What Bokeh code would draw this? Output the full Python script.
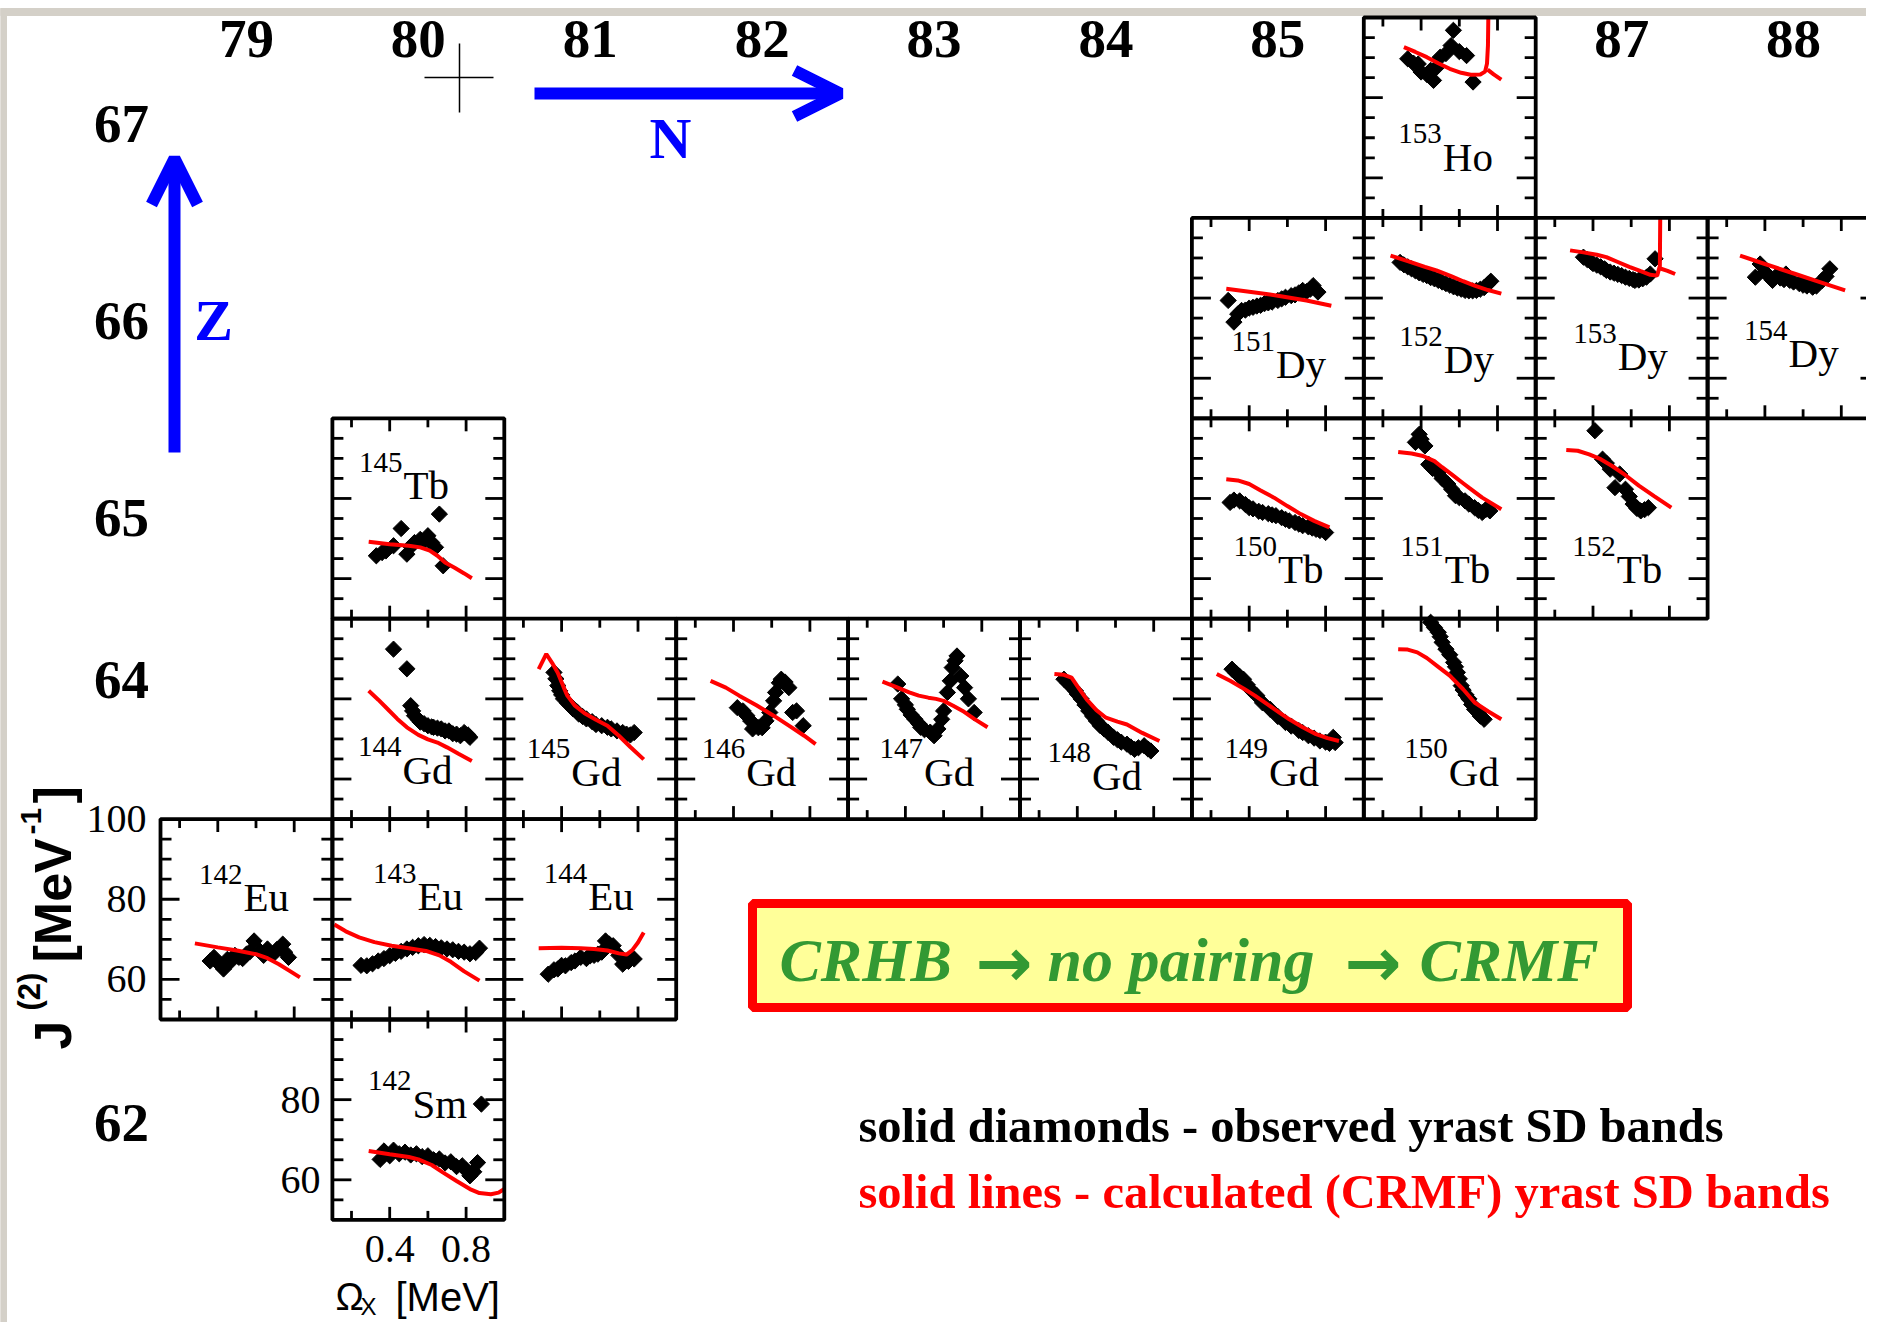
import numpy as np
from bokeh.plotting import figure
from bokeh.models import Range1d, Arrow, OpenHead
from bokeh.core.properties import value
from bokeh.embed import file_html
from bokeh.resources import INLINE

# ---------------------------------------------------------------- data
# observed J(2) (diamonds) and calculated CRMF J(2) (lines); x = Omega_x [MeV]
eu142_ox = [0.36, 0.38, 0.40, 0.43, 0.45, 0.47, 0.49, 0.51, 0.53, 0.55, 0.57, 0.59, 0.62, 0.64, 0.66, 0.69, 0.71, 0.74, 0.75, 0.77]
eu142_oy = [64.6, 65.5, 64.2, 62.6, 65.0, 64.6, 66.0, 65.5, 65.2, 66.3, 67.0, 69.6, 67.1, 66.0, 67.6, 66.3, 67.5, 68.8, 66.8, 65.5]
eu142_cx = [0.28, 0.40, 0.50, 0.60, 0.66, 0.72, 0.78, 0.83]
eu142_cy = [69.0, 68.0, 67.2, 66.3, 65.3, 63.8, 62.0, 60.5]

eu143_ox = [0.25, 0.28, 0.31, 0.34, 0.37, 0.40, 0.43, 0.46, 0.49, 0.52, 0.55, 0.58, 0.61, 0.64, 0.67, 0.70, 0.73, 0.76, 0.79, 0.82, 0.85, 0.87]
eu143_oy = [63.5, 63.4, 63.9, 64.6, 65.2, 65.9, 66.5, 67.0, 67.6, 68.0, 68.4, 68.7, 68.5, 68.2, 67.9, 67.6, 67.4, 67.0, 66.8, 66.4, 66.7, 67.8]
eu143_cx = [0.11, 0.17, 0.24, 0.32, 0.41, 0.50, 0.59, 0.66, 0.72, 0.79, 0.87]
eu143_cy = [73.7, 72.0, 70.5, 69.3, 68.4, 67.8, 67.1, 66.0, 64.4, 62.0, 59.7]

eu144_ox = [0.33, 0.36, 0.38, 0.40, 0.42, 0.45, 0.47, 0.50, 0.53, 0.55, 0.57, 0.59, 0.61, 0.63, 0.65, 0.67, 0.70, 0.72, 0.75, 0.78]
eu144_oy = [61.3, 62.4, 62.6, 63.5, 63.4, 64.2, 64.6, 65.5, 65.2, 65.9, 66.0, 66.3, 66.8, 69.6, 68.8, 68.4, 66.0, 63.8, 64.5, 65.1]
eu144_cx = [0.28, 0.40, 0.50, 0.57, 0.64, 0.70, 0.74, 0.77, 0.80, 0.83]
eu144_cy = [67.8, 67.9, 67.8, 67.6, 67.2, 66.5, 66.2, 67.3, 69.2, 71.7]

sm142_ox = [0.35, 0.37, 0.40, 0.42, 0.45, 0.48, 0.51, 0.54, 0.57, 0.60, 0.63, 0.66, 0.69, 0.72, 0.75, 0.78, 0.80, 0.82, 0.83, 0.84, 0.86, 0.88]
sm142_oy = [65.1, 67.2, 66.0, 67.4, 66.5, 66.9, 66.2, 66.5, 65.8, 66.0, 65.0, 65.2, 64.2, 64.5, 63.3, 63.5, 62.4, 61.0, 61.8, 62.0, 64.3, 78.9]
sm142_cx = [0.29, 0.40, 0.50, 0.55, 0.62, 0.68, 0.75, 0.82, 0.87, 0.93, 0.97, 1.0]
sm142_cy = [67.2, 66.4, 65.7, 65.1, 63.7, 61.8, 59.7, 57.7, 56.7, 56.4, 56.8, 57.7]

tb145_ox = [0.33, 0.36, 0.38, 0.42, 0.46, 0.49, 0.51, 0.53, 0.56, 0.58, 0.60, 0.62, 0.64, 0.66, 0.68]
tb145_oy = [65.7, 66.5, 66.9, 68.2, 72.5, 66.1, 68.0, 69.0, 69.8, 69.3, 70.7, 69.0, 67.8, 76.1, 63.2]
tb145_cx = [0.29, 0.40, 0.50, 0.56, 0.61, 0.65, 0.69, 0.74, 0.79, 0.83]
tb145_cy = [69.2, 68.6, 68.2, 67.8, 67.0, 65.7, 64.0, 62.7, 61.3, 60.1]

gd144_ox = [0.42, 0.49, 0.51, 0.52, 0.53, 0.55, 0.56, 0.58, 0.60, 0.62, 0.63, 0.65, 0.67, 0.69, 0.71, 0.73, 0.75, 0.77, 0.79, 0.81, 0.82]
gd144_oy = [92.4, 87.5, 78.3, 77.0, 75.8, 74.8, 74.2, 73.8, 73.3, 73.0, 72.9, 72.7, 72.5, 72.0, 72.0, 71.3, 71.2, 70.8, 71.6, 71.0, 70.4]
gd144_cx = [0.29, 0.34, 0.39, 0.44, 0.49, 0.55, 0.60, 0.65, 0.70, 0.76, 0.83]
gd144_cy = [82.0, 79.8, 77.4, 75.0, 72.9, 71.0, 69.9, 69.1, 67.9, 66.3, 64.5]

gd145_ox = [0.36, 0.37, 0.38, 0.39, 0.40, 0.41, 0.43, 0.445, 0.46, 0.48, 0.49, 0.51, 0.53, 0.56, 0.58, 0.61, 0.64, 0.66, 0.69, 0.72, 0.74, 0.76, 0.78]
gd145_oy = [86.6, 85.0, 83.3, 82.0, 81.0, 80.0, 79.0, 78.3, 77.5, 76.8, 76.2, 75.6, 75.0, 74.3, 73.6, 73.3, 72.9, 72.5, 72.0, 71.6, 71.2, 71.0, 71.6]
gd145_cx = [0.28, 0.32, 0.35, 0.38, 0.41, 0.43, 0.47, 0.52, 0.58, 0.64, 0.70, 0.76, 0.83]
gd145_cy = [87.4, 91.2, 89.0, 86.5, 83.0, 80.8, 78.3, 76.4, 74.8, 73.3, 70.8, 68.0, 64.9]

gd146_ox = [0.42, 0.45, 0.47, 0.49, 0.50, 0.53, 0.55, 0.57, 0.59, 0.61, 0.62, 0.64, 0.65, 0.67, 0.69, 0.71, 0.73, 0.765]
gd146_oy = [77.8, 77.0, 75.8, 74.5, 72.5, 72.8, 72.8, 74.5, 76.6, 79.5, 81.6, 84.0, 84.9, 84.2, 82.8, 76.6, 77.0, 73.3]
gd146_cx = [0.28, 0.36, 0.43, 0.52, 0.61, 0.70, 0.77, 0.83]
gd146_cy = [84.5, 82.8, 80.8, 78.4, 75.8, 73.0, 70.8, 68.7]

gd147_ox = [0.36, 0.38, 0.40, 0.41, 0.43, 0.45, 0.47, 0.48, 0.50, 0.53, 0.55, 0.57, 0.59, 0.60, 0.62, 0.635, 0.645, 0.66, 0.67, 0.69, 0.71, 0.73, 0.76]
gd147_oy = [83.7, 80.0, 78.5, 77.4, 76.0, 74.9, 73.8, 72.9, 72.3, 71.7, 70.8, 72.5, 74.9, 77.0, 81.6, 84.5, 87.8, 89.5, 90.7, 85.7, 82.8, 80.0, 76.6]
gd147_cx = [0.28, 0.35, 0.42, 0.47, 0.52, 0.56, 0.60, 0.65, 0.70, 0.76, 0.83]
gd147_cy = [84.3, 83.0, 81.6, 80.8, 80.3, 80.0, 79.5, 78.3, 77.0, 75.0, 72.9]

gd148_ox = [0.33, 0.35, 0.37, 0.39, 0.40, 0.42, 0.44, 0.46, 0.48, 0.50, 0.52, 0.54, 0.56, 0.59, 0.61, 0.63, 0.66, 0.68, 0.70, 0.72, 0.75, 0.77, 0.785]
gd148_oy = [84.9, 84.0, 83.0, 82.0, 81.2, 80.0, 78.5, 77.0, 75.7, 74.5, 73.3, 72.5, 71.7, 70.4, 69.8, 69.2, 68.7, 68.0, 67.4, 67.8, 68.3, 67.5, 67.0]
gd148_cx = [0.28, 0.33, 0.37, 0.41, 0.45, 0.50, 0.55, 0.61, 0.66, 0.74, 0.83]
gd148_cy = [86.2, 86.0, 85.3, 82.5, 79.8, 77.2, 75.3, 74.3, 73.6, 71.5, 69.5]

gd149_ox = [0.31, 0.33, 0.35, 0.37, 0.39, 0.41, 0.44, 0.47, 0.51, 0.55, 0.59, 0.62, 0.66, 0.68, 0.71, 0.74, 0.77, 0.80, 0.82, 0.84, 0.85]
gd149_oy = [87.4, 86.5, 85.6, 84.9, 83.5, 82.2, 80.8, 79.0, 77.4, 75.6, 74.1, 73.2, 72.1, 71.6, 70.8, 70.2, 69.5, 69.2, 68.9, 70.4, 69.1]
gd149_cx = [0.23, 0.30, 0.37, 0.43, 0.50, 0.56, 0.61, 0.68, 0.75, 0.81, 0.87]
gd149_cy = [86.2, 84.5, 82.6, 80.8, 78.5, 76.5, 74.9, 72.9, 71.2, 70.2, 69.5]

gd150_ox = [0.45, 0.47, 0.49, 0.50, 0.51, 0.53, 0.55, 0.57, 0.58, 0.59, 0.60, 0.61, 0.62, 0.635, 0.65, 0.665, 0.68, 0.70, 0.71, 0.73]
gd150_oy = [99.1, 97.8, 96.6, 95.5, 94.1, 92.4, 91.0, 89.1, 88.0, 86.6, 85.0, 83.3, 82.2, 81.0, 80.0, 78.6, 77.4, 76.5, 75.7, 74.9]
gd150_cx = [0.28, 0.33, 0.38, 0.43, 0.49, 0.55, 0.62, 0.68, 0.75, 0.82]
gd150_cy = [92.4, 92.3, 91.6, 90.2, 88.0, 85.8, 82.4, 79.1, 76.9, 74.9]

tb150_ox = [0.30, 0.32, 0.35, 0.38, 0.40, 0.42, 0.45, 0.47, 0.50, 0.52, 0.54, 0.57, 0.59, 0.61, 0.64, 0.66, 0.68, 0.71, 0.73, 0.75, 0.77, 0.80]
tb150_oy = [79.0, 79.6, 79.4, 78.5, 77.7, 77.4, 76.8, 76.5, 76.2, 75.9, 75.7, 75.2, 74.8, 74.4, 74.0, 73.6, 73.2, 72.9, 72.6, 72.3, 72.0, 71.5]
tb150_cx = [0.28, 0.34, 0.40, 0.46, 0.53, 0.60, 0.67, 0.74, 0.82]
tb150_cy = [84.8, 84.5, 83.6, 82.0, 80.2, 78.1, 76.1, 74.4, 72.8]

tb151_ox = [0.37, 0.39, 0.40, 0.42, 0.44, 0.46, 0.49, 0.51, 0.54, 0.56, 0.58, 0.60, 0.63, 0.65, 0.68, 0.70, 0.72, 0.74, 0.76]
tb151_oy = [94.0, 96.0, 94.8, 93.1, 88.5, 87.5, 86.5, 85.0, 83.6, 82.3, 80.7, 80.2, 79.4, 78.6, 77.7, 77.0, 76.5, 77.3, 76.9]
tb151_cx = [0.28, 0.35, 0.41, 0.47, 0.51, 0.56, 0.62, 0.65, 0.72, 0.82]
tb151_cy = [91.6, 91.2, 90.6, 89.3, 87.8, 86.0, 83.8, 82.7, 80.2, 77.3]

tb152_ox = [0.41, 0.45, 0.47, 0.49, 0.515, 0.54, 0.57, 0.59, 0.61, 0.63, 0.65, 0.67, 0.69]
tb152_oy = [96.9, 89.8, 88.8, 87.3, 82.7, 86.1, 82.3, 80.5, 78.6, 77.5, 76.9, 77.2, 77.7]
tb152_cx = [0.26, 0.32, 0.38, 0.44, 0.50, 0.57, 0.64, 0.72, 0.81]
tb152_cy = [92.1, 91.9, 91.0, 89.8, 88.1, 85.8, 83.2, 80.6, 77.7]

ho153_ox = [0.33, 0.36, 0.385, 0.40, 0.43, 0.45, 0.465, 0.48, 0.50, 0.53, 0.557, 0.569, 0.60, 0.638, 0.672]
ho153_oy = [89.7, 88.6, 88.4, 86.4, 85.8, 86.8, 84.3, 87.5, 90.1, 91.0, 93.0, 96.8, 91.5, 90.5, 83.9]
ho153_cx = [0.31, 0.37, 0.43, 0.49, 0.55, 0.61, 0.66, 0.71, 0.735, 0.745, 0.75, 0.752]
ho153_cy = [92.6, 91.4, 90.1, 88.6, 87.2, 86.2, 85.7, 85.8, 86.5, 88.5, 93.0, 100.0]
ho153_c2x = [0.748, 0.78, 0.82]
ho153_c2y = [87.0, 85.8, 84.5]

dy151_ox = [0.29, 0.32, 0.34, 0.36, 0.38, 0.40, 0.42, 0.44, 0.46, 0.48, 0.50, 0.52, 0.55, 0.57, 0.59, 0.62, 0.64, 0.66, 0.68, 0.70, 0.72, 0.735, 0.76]
dy151_oy = [79.4, 74.0, 76.0, 76.9, 77.0, 77.5, 77.7, 78.0, 78.2, 78.6, 78.8, 79.0, 79.4, 79.8, 80.2, 80.6, 80.8, 81.3, 81.9, 81.6, 82.2, 83.1, 81.5]
dy151_cx = [0.28, 0.40, 0.55, 0.70, 0.83]
dy151_cy = [82.3, 81.6, 80.6, 79.4, 78.1]

dy152_ox = [0.29, 0.31, 0.33, 0.35, 0.37, 0.39, 0.41, 0.43, 0.45, 0.47, 0.49, 0.51, 0.53, 0.55, 0.57, 0.59, 0.61, 0.63, 0.65, 0.67, 0.69, 0.71, 0.73, 0.75, 0.765]
dy152_oy = [88.9, 88.3, 87.8, 87.3, 86.8, 86.3, 85.9, 85.6, 85.1, 84.8, 84.4, 84.0, 83.6, 83.2, 82.8, 82.5, 82.2, 81.9, 81.8, 81.8, 81.9, 82.2, 82.6, 83.5, 84.2]
dy152_cx = [0.24, 0.33, 0.42, 0.48, 0.56, 0.62, 0.68, 0.75, 0.82]
dy152_cy = [90.6, 89.2, 87.8, 86.9, 85.4, 84.2, 83.1, 82.0, 81.1]

dy153_ox = [0.35, 0.37, 0.39, 0.40, 0.42, 0.44, 0.46, 0.47, 0.49, 0.51, 0.53, 0.55, 0.57, 0.59, 0.61, 0.62, 0.64, 0.66, 0.68, 0.70, 0.725]
dy153_oy = [90.2, 89.6, 89.0, 88.6, 88.2, 87.8, 87.3, 86.9, 86.5, 86.2, 85.9, 85.6, 85.2, 84.9, 84.6, 84.4, 84.5, 84.8, 85.2, 86.0, 89.8]
dy153_cx = [0.28, 0.35, 0.42, 0.47, 0.53, 0.59, 0.65, 0.70, 0.736, 0.75, 0.752]
dy153_cy = [91.9, 91.4, 90.8, 90.2, 89.0, 87.8, 86.7, 85.8, 85.6, 88.0, 100.0]
dy153_c2x = [0.745, 0.79, 0.83]
dy153_c2y = [87.5, 86.8, 86.0]

dy154_ox = [0.35, 0.375, 0.40, 0.42, 0.44, 0.46, 0.48, 0.50, 0.51, 0.53, 0.55, 0.58, 0.60, 0.62, 0.65, 0.67, 0.70, 0.72, 0.74]
dy154_oy = [85.2, 88.5, 86.5, 85.5, 84.4, 85.5, 85.0, 84.6, 86.0, 84.4, 84.0, 83.6, 83.2, 83.0, 82.7, 83.0, 84.4, 85.4, 87.3]
dy154_cx = [0.27, 0.40, 0.56, 0.70, 0.82]
dy154_cy = [90.6, 88.5, 86.0, 83.8, 81.9]

# chart labels
n_values = [79, 80, 81, 82, 83, 84, 85, 87, 88]
n_labels = ["79", "80", "81", "82", "83", "84", "85", "87", "88"]
z_labels = ["67", "66", "65", "64", "62"]
x_tick_major = [0.4, 0.8]
x_tick_minor = [0.2, 0.6]
y_tick_major = [60, 80]
y_tick_minor = [55, 65, 70, 75, 85, 90, 95]
x_tick_labels = ["0.4", "0.8"]
eu_tick_values = [100, 80, 60]
eu_tick_labels = ["100", "80", "60"]
sm_tick_values = [80, 60]
sm_tick_labels = ["80", "60"]

# panel: (mass, symbol, N, Z, obs x, obs y, calc curves, label baseline offset px from panel top-left)
panels = [
    (142, "Eu", 79, 63, eu142_ox, eu142_oy, [(eu142_cx, eu142_cy)], (83, 92)),
    (143, "Eu", 80, 63, eu143_ox, eu143_oy, [(eu143_cx, eu143_cy)], (85, 91)),
    (144, "Eu", 81, 63, eu144_ox, eu144_oy, [(eu144_cx, eu144_cy)], (84, 91)),
    (142, "Sm", 80, 62, sm142_ox, sm142_oy, [(sm142_cx, sm142_cy)], (80, 98)),
    (145, "Tb", 80, 65, tb145_ox, tb145_oy, [(tb145_cx, tb145_cy)], (71, 81)),
    (144, "Gd", 80, 64, gd144_ox, gd144_oy, [(gd144_cx, gd144_cy)], (70, 165)),
    (145, "Gd", 81, 64, gd145_ox, gd145_oy, [(gd145_cx, gd145_cy)], (67, 167)),
    (146, "Gd", 82, 64, gd146_ox, gd146_oy, [(gd146_cx, gd146_cy)], (70, 167)),
    (147, "Gd", 83, 64, gd147_ox, gd147_oy, [(gd147_cx, gd147_cy)], (76, 167)),
    (148, "Gd", 84, 64, gd148_ox, gd148_oy, [(gd148_cx, gd148_cy)], (72, 171)),
    (149, "Gd", 85, 64, gd149_ox, gd149_oy, [(gd149_cx, gd149_cy)], (77, 167)),
    (150, "Gd", 86, 64, gd150_ox, gd150_oy, [(gd150_cx, gd150_cy)], (85, 167)),
    (150, "Tb", 85, 65, tb150_ox, tb150_oy, [(tb150_cx, tb150_cy)], (86, 165)),
    (151, "Tb", 86, 65, tb151_ox, tb151_oy, [(tb151_cx, tb151_cy)], (81, 165)),
    (152, "Tb", 87, 65, tb152_ox, tb152_oy, [(tb152_cx, tb152_cy)], (81, 165)),
    (153, "Ho", 86, 67, ho153_ox, ho153_oy, [(ho153_cx, ho153_cy), (ho153_c2x, ho153_c2y)], (79, 153)),
    (151, "Dy", 85, 66, dy151_ox, dy151_oy, [(dy151_cx, dy151_cy)], (84, 160)),
    (152, "Dy", 86, 66, dy152_ox, dy152_oy, [(dy152_cx, dy152_cy)], (80, 155)),
    (153, "Dy", 87, 66, dy153_ox, dy153_oy, [(dy153_cx, dy153_cy), (dy153_c2x, dy153_c2y)], (82, 152)),
    (154, "Dy", 88, 66, dy154_ox, dy154_oy, [(dy154_cx, dy154_cy)], (81, 149)),
]

# ---------------------------------------------------------------- layout / style
SERIF = value("Liberation Serif")
SANS = value("Liberation Sans")
PW, PH = 1866, 1322
GX0, GY0, CW, CH = 160.0, 17.0, 171.9, 200.4
XS, YS = (0.1, 1.0), (50.0, 100.0)
PX2DX = (XS[1] - XS[0]) / CW
PX2DY = (YS[1] - YS[0]) / CH

p = figure(width=PW, height=PH, x_range=Range1d(0, PW), y_range=Range1d(PH, 0),
           output_backend="svg", toolbar_location=None, min_border=0,
           x_axis_location=None, y_axis_location=None)
p.xgrid.visible = False
p.ygrid.visible = False
p.outline_line_color = None
p.background_fill_color = "white"
p.border_fill_color = "white"

# screenshot frame
p.quad(left=[0], right=[PW], top=[8], bottom=[15], color="#d4d0c8")
p.quad(left=[0], right=[6], top=[8], bottom=[PH], color="#d4d0c8")


def make_sub(N, Z):
    left = GX0 + (N - 79) * CW
    top = GY0 + (67 - Z) * CH
    return p.subplot(x_source=Range1d(*XS), y_source=Range1d(*YS),
                     x_target=Range1d(left, left + CW), y_target=Range1d(top + CH, top))


def draw_ticks(sub):
    x0, y0, x1, y1 = [], [], [], []
    for ticks, L in ((x_tick_major, 13), (x_tick_minor, 9)):
        d = L * PX2DY
        for t in ticks:
            x0 += [t, t]; x1 += [t, t]
            y0 += [YS[0], YS[1]]; y1 += [YS[0] + d, YS[1] - d]
    for ticks, L in ((y_tick_major, 19), (y_tick_minor, 11)):
        d = L * PX2DX
        for t in ticks:
            x0 += [XS[0], XS[1]]; x1 += [XS[0] + d, XS[1] - d]
            y0 += [t, t]; y1 += [t, t]
    sub.segment(x0=x0, y0=y0, x1=x1, y1=y1, line_color="black", line_width=2.8)


SYM_FS, MASS_FS = 41, 29
subs = {}
for mass, sym, N, Z, ox, oy, curves, (ldx, ldy) in panels:
    sub = make_sub(N, Z)
    subs[(mass, sym)] = sub
    sub.scatter(ox, oy, marker="square", angle=np.pi / 4, size=11.5, color="black")
    for cx, cy in curves:
        sub.line(cx, cy, line_color="red", line_width=4)
    lx = XS[0] + ldx * PX2DX
    ly = YS[1] - (ldy - 0.34 * SYM_FS) * PX2DY
    sub.text(x=[lx], y=[ly], text=[sym], text_font=SERIF, text_font_size=f"{SYM_FS}px",
             text_align="left", text_baseline="middle", text_color="black")
    sub.text(x=[lx], y=[ly], text=[str(mass)], text_font=SERIF, text_font_size=f"{MASS_FS}px",
             text_align="right", text_baseline="middle", text_color="black",
             x_offset=-1, y_offset=-(27 + 0.34 * MASS_FS - 0.34 * SYM_FS))
    sub.quad(left=[XS[0]], right=[XS[1]], bottom=[YS[0]], top=[YS[1]],
             fill_color=None, line_color="black", line_width=3.8)
    draw_ticks(sub)

# tick labels (J(2) scale on 142Eu and 142Sm, Omega scale under 142Sm)
s_eu = subs[(142, "Eu")]
s_eu.text(x=[XS[0]] * 3, y=eu_tick_values, text=eu_tick_labels, text_font=SERIF,
          text_font_size="40px", text_align="right", text_baseline="middle", x_offset=-14)
s_sm = subs[(142, "Sm")]
s_sm.text(x=[XS[0]] * 2, y=sm_tick_values, text=sm_tick_labels, text_font=SERIF,
          text_font_size="40px", text_align="right", text_baseline="middle", x_offset=-12)
s_sm.text(x=x_tick_major, y=[YS[0]] * 2, text=x_tick_labels, text_font=SERIF,
          text_font_size="40px", text_align="center", text_baseline="middle", y_offset=29)

# N and Z labels
p.text(x=[GX0 + (n - 79 + 0.5) * CW for n in n_values], y=[38] * len(n_values), text=n_labels,
       text_font=SERIF, text_font_style="bold", text_font_size="55px",
       text_align="center", text_baseline="middle")
p.text(x=[121] * 5, y=[123, 320, 517, 679, 1122], text=z_labels,
       text_font=SERIF, text_font_style="bold", text_font_size="55px",
       text_align="center", text_baseline="middle")

# arrows
p.add_layout(Arrow(x_start=174, y_start=452, x_end=174, y_end=158, line_color="blue", line_width=12,
                   end=OpenHead(size=46, line_color="blue", line_width=12)))
p.add_layout(Arrow(x_start=534, y_start=93, x_end=840, y_end=93, line_color="blue", line_width=12,
                   end=OpenHead(size=46, line_color="blue", line_width=12)))
p.text(x=[213, 670], y=[320, 138], text=["Z", "N"], text_font=SERIF, text_font_style="bold",
       text_font_size="58px", text_color="blue", text_align="center", text_baseline="middle")
# small cross mark
p.segment(x0=[424, 459], y0=[77, 43], x1=[493, 459], y1=[77, 112], line_color="black", line_width=1.5)

# y axis title (rotated, reads bottom to top)
p.text(x=[52, 29, 52, 30, 52], y=[1049, 1010, 962, 834, 803],
       text=["J", "(2)", "[MeV", "-1", "]"], angle=np.pi / 2,
       text_font=SANS, text_font_style="bold",
       text_font_size=["52px", "31px", "52px", "30px", "52px"],
       text_align="left", text_baseline="middle")

# x axis title
p.text(x=[335], y=[1296], text=["\u03a9"], text_font=SANS, text_font_size="38px",
       text_align="left", text_baseline="middle")
p.text(x=[360], y=[1306], text=["X"], text_font=SANS, text_font_size="24px",
       text_align="left", text_baseline="middle")
p.text(x=[395], y=[1296], text=["[MeV]"], text_font=SANS, text_font_size="40px",
       text_align="left", text_baseline="middle")

# legend box
p.quad(left=[752], right=[1627], top=[903], bottom=[1007], fill_color="#ffff99",
       line_color="red", line_width=9)
p.text(x=[779, 1047, 1419], y=[959, 959, 959], text=["CRHB", "no pairing", "CRMF"], text_font=SERIF,
       text_font_style="bold italic", text_font_size="62px", text_color="#339933",
       text_align="left", text_baseline="middle")
p.text(x=[975, 1344], y=[962, 962], text=["\u2192", "\u2192"], text_font=value("DejaVu Sans"),
       text_font_style="bold", text_font_size="68px", text_color="#339933",
       text_align="left", text_baseline="middle")
p.text(x=[858, 858], y=[1125, 1191],
       text=["solid diamonds - observed yrast SD bands",
             "solid lines - calculated (CRMF) yrast SD bands"],
       text_color=["black", "red"], text_font=SERIF, text_font_style="bold",
       text_font_size="48.5px", text_align="left", text_baseline="middle")

open("out.html", "w").write(file_html(p, INLINE))
